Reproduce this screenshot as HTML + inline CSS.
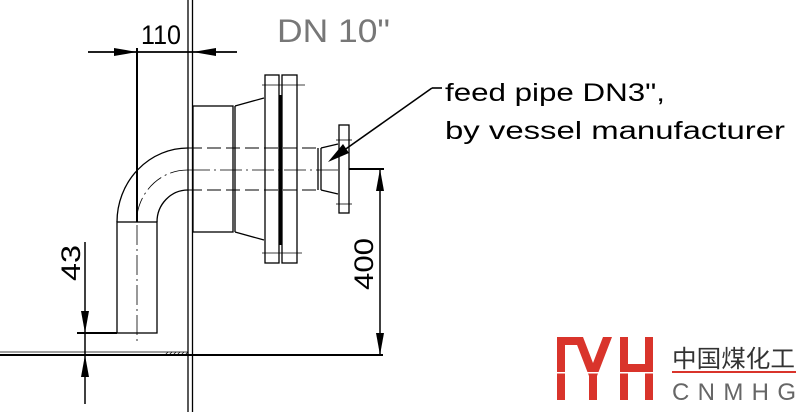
<!DOCTYPE html>
<html><head><meta charset="utf-8"><style>
html,body{margin:0;padding:0;background:#fff;width:802px;height:412px;overflow:hidden}
</style></head><body>
<svg width="802" height="412" viewBox="0 0 802 412" xmlns="http://www.w3.org/2000/svg" style="display:block">
<g stroke="#000" fill="none" stroke-width="1.3">
<!-- wall -->
<line x1="188" y1="0" x2="188" y2="412"/>
<line x1="192.5" y1="0" x2="192.5" y2="412"/>
<!-- floor -->
<line x1="0" y1="355" x2="383" y2="355" stroke-width="2"/>
<line x1="0" y1="352" x2="188" y2="352" stroke-width="0.8"/>
<path d="M165 355 l3 -3 M169 355 l3 -3 M173 355 l3 -3 M177 355 l3 -3 M181 355 l3 -3 M185 355 l3 -3" stroke-width="0.7"/>
<!-- 110 dim -->
<line x1="88" y1="52" x2="237" y2="52" stroke-width="1.8"/>
<line x1="137" y1="48" x2="137" y2="222" stroke-width="2"/>
<!-- nozzle body -->
<rect x="193" y="106" width="40" height="126"/>
<line x1="235" y1="106" x2="235" y2="232"/>
<line x1="235" y1="106" x2="264" y2="98"/>
<line x1="235" y1="232" x2="264" y2="240"/>
<rect x="265" y="75" width="14" height="188"/>
<rect x="282" y="75" width="15" height="188"/>
<line x1="280.5" y1="95" x2="280.5" y2="245" stroke-width="2.2"/>
<line x1="262" y1="85" x2="305" y2="85" stroke-width="0.8"/>
<line x1="262" y1="253" x2="302" y2="253" stroke-width="0.8"/>
<!-- dashed pipe -->
<g stroke-dasharray="14,5" stroke-width="1">
<line x1="188" y1="148" x2="318" y2="148"/>
<line x1="188" y1="190" x2="318" y2="190"/>
</g>
<line x1="188" y1="170" x2="340" y2="170" stroke-width="0.8" stroke-dasharray="22,4,2,4"/>
<!-- small pipe -->
<line x1="318" y1="148" x2="318" y2="190"/>
<line x1="321" y1="148" x2="321" y2="190"/>
<line x1="321" y1="148" x2="338" y2="144"/>
<line x1="321" y1="190" x2="338" y2="194"/>
<rect x="339" y="125" width="10" height="88"/>
<line x1="336" y1="140" x2="352" y2="140" stroke-width="0.8"/>
<line x1="336" y1="204" x2="352" y2="204" stroke-width="0.8"/>
<!-- elbow -->
<path d="M117 222 A71 74 0 0 1 188 148"/>
<path d="M157 222 A31 32 0 0 1 188 190"/>
<path d="M137 215 A51 53 0 0 1 188 170" stroke-width="0.8" stroke-dasharray="18,4,2,4"/>
<rect x="117" y="222" width="40" height="111"/>
<line x1="137" y1="225" x2="137" y2="343" stroke-width="0.8" stroke-dasharray="20,4,2,4"/>
<!-- 43 dim -->
<line x1="85" y1="242" x2="85" y2="404" stroke-width="1.5"/>
<line x1="77" y1="333" x2="117" y2="333" stroke-width="2"/>
<!-- 400 dim -->
<line x1="349" y1="169" x2="384" y2="169" stroke-width="2"/>
<line x1="380" y1="169" x2="380" y2="355" stroke-width="1.5"/>
<!-- leader -->
<line x1="432" y1="88" x2="333" y2="158" stroke-width="1.6"/>
<line x1="432" y1="88" x2="442" y2="88" stroke-width="1.6"/>
</g>
<g fill="#000">
<polygon points="137,52 114,48 114,56"/>
<polygon points="193,52 216,48 216,56"/>
<polygon points="85,333 81,311 89,311"/>
<polygon points="85,355 81,377 89,377"/>
<polygon points="380,169 376,191 384,191"/>
<polygon points="380,355 376,333 384,333"/>
<polygon points="328,162 343,144 349,153"/>
</g>
<g font-family="Liberation Sans, sans-serif" fill="#000">
<text x="141" y="44" font-size="27" textLength="40" lengthAdjust="spacingAndGlyphs">110</text>
<text x="277" y="42" font-size="32" fill="#777" textLength="113" lengthAdjust="spacingAndGlyphs">DN 10"</text>
<text x="445" y="101" font-size="25" textLength="220" lengthAdjust="spacingAndGlyphs">feed pipe DN3",</text>
<text x="445" y="139" font-size="25" textLength="340" lengthAdjust="spacingAndGlyphs">by vessel manufacturer</text>
<text transform="translate(80,281) rotate(-90)" font-size="27" textLength="36" lengthAdjust="spacingAndGlyphs">43</text>
<text transform="translate(373,290) rotate(-90)" font-size="27" textLength="52" lengthAdjust="spacingAndGlyphs">400</text>
</g>
<!-- logo -->
<g fill="#d9342b">
<rect x="557" y="337" width="8" height="63"/>
<rect x="557" y="337" width="22" height="8"/>
<polygon points="574,337 583,337 593,363 603,337 612,337 597,376 589,376"/>
<rect x="589" y="372" width="8" height="28"/>
<rect x="620" y="337" width="8" height="63"/>
<rect x="645" y="337" width="8" height="63"/>
<rect x="620" y="364" width="33" height="8"/>
<rect x="672" y="371" width="124" height="2"/>
</g>
<rect x="550" y="372" width="110" height="1.5" fill="#fff"/>
<text x="672" y="367" font-family="Liberation Sans, Noto Sans CJK SC, sans-serif" font-size="24" fill="#333" textLength="123" lengthAdjust="spacingAndGlyphs">中国煤化工</text>
<text x="672" y="400" font-family="Liberation Sans, sans-serif" font-size="24" fill="#666" textLength="124" lengthAdjust="spacing">CNMHG</text>
</svg>
</body></html>
